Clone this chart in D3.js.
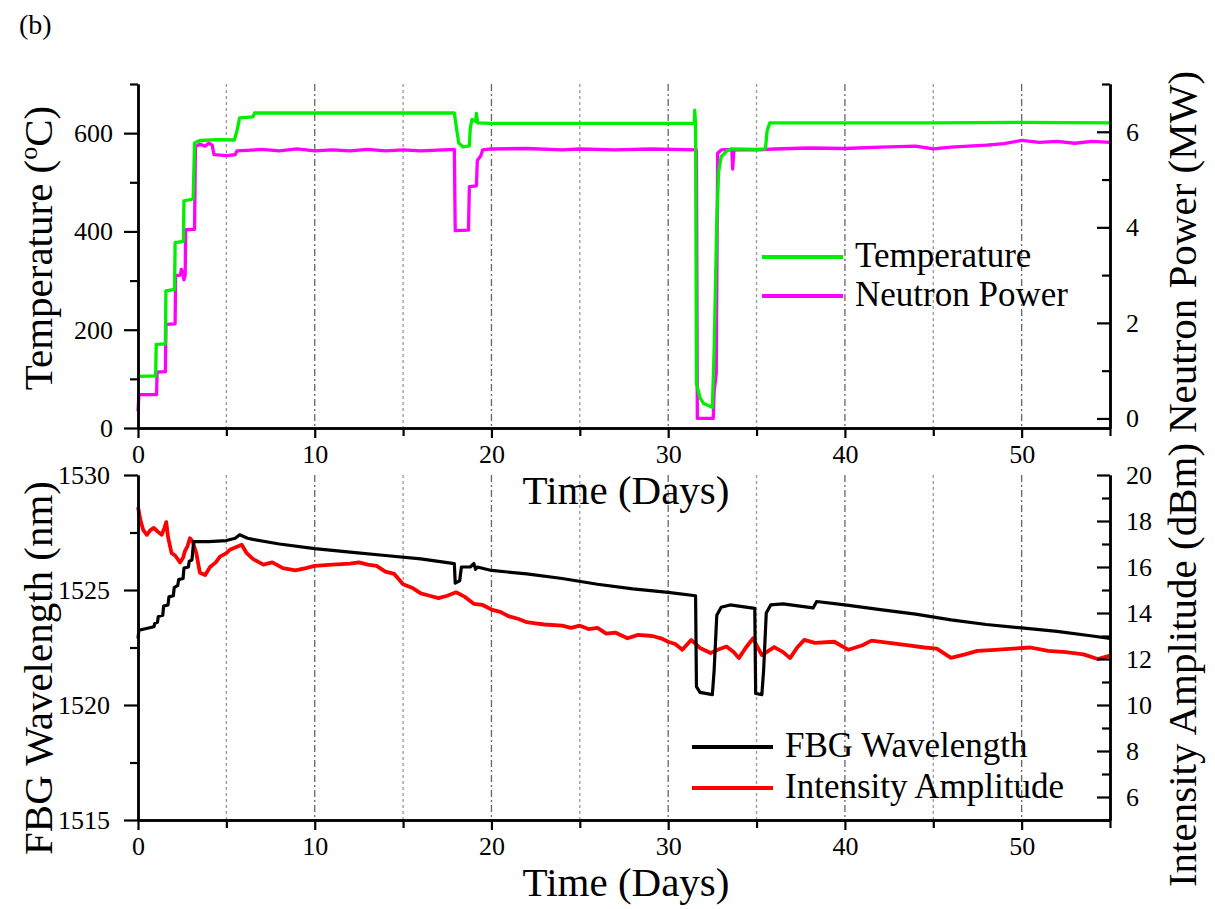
<!DOCTYPE html>
<html>
<head>
<meta charset="utf-8">
<script src="https://cdn.jsdelivr.net/npm/d3@7"></script>
<style>
  html, body { margin: 0; padding: 0; background: #fff; }
  svg { display: block; }
  text { font-family: "Liberation Serif", "Times New Roman", serif; fill: #000; }
</style>
</head>
<body>
<svg id="chart" width="1215" height="909"></svg>
<script>
// ---------------- DATA ----------------
const xMajorTicks = [0, 10, 20, 30, 40, 50];
const xMinorTicks = [5, 15, 25, 35, 45, 55];
const tempTicks = [0, 200, 400, 600];
const tempMinorTicks = [100, 300, 500, 700];
const powerTicks = [0, 2, 4, 6];
const powerMinorTicks = [1, 3, 5, 7];
const wlTicks = [1515, 1520, 1525, 1530];
const wlMinorTicks = [1517.5, 1522.5, 1527.5];
const ampTicks = [6, 8, 10, 12, 14, 16, 18, 20];
const ampMinorTicks = [5, 7, 9, 11, 13, 15, 17, 19];

// Temperature (°C) vs time (days)
const temperature = [
  [0,102],[0.05,105],[1.0,106],[1.03,170],[1.55,171],[1.58,279],[2.07,282],[2.1,377],[2.57,380],[2.6,462],[3.12,466],[3.2,580],
  [3.5,585],[4.5,587],[5.45,586],[5.6,605],[5.75,631],[6.5,633],[6.6,641],[10,641],[15,641],[17.9,641],
  [18.0,615],[18.15,580],[18.4,572],[18.75,574],[18.8,610],[18.9,628],[19.1,624],[19.15,640],[19.22,621],[20,620],
  [25,620],[31.48,620],[31.5,647],[31.55,620],[31.6,90],[31.8,62],[32.0,50],[32.5,42],[32.55,100],[32.6,158],
  [32.75,420],[32.85,520],[33.0,552],[33.3,563],[33.6,568],[35.0,567],[35.5,568],[35.6,605],[35.75,621],
  [40,621],[45,621],[50,622],[55,621]
];

// Neutron power (MW) vs time (days)
const neutronPower = [
  [0,0.15],[0.05,0.5],[1.05,0.5],[1.08,0.97],[1.55,0.98],[1.58,1.97],[2.1,1.98],[2.13,2.99],[2.4,3.0],[2.45,3.12],
  [2.55,3.05],[2.6,2.9],[2.67,3.0],[2.7,3.95],[3.2,3.96],[3.25,5.69],[3.5,5.74],[3.8,5.7],[4.0,5.76],[4.2,5.72],
  [4.3,5.52],[5.0,5.5],[5.5,5.52],[5.6,5.6],[7,5.63],[8,5.6],[9,5.64],[10,5.6],[11,5.62],[12,5.6],[13,5.63],
  [14,5.6],[15,5.62],[16,5.6],[17.9,5.63],[17.95,3.93],[18.7,3.94],[18.75,4.85],[19.15,4.87],[19.2,5.4],[19.4,5.5],
  [19.5,5.62],[20,5.64],[22,5.65],[24,5.62],[25,5.64],[27,5.62],[29,5.64],[31.6,5.62],[31.65,0.0],[32.55,0.0],
  [32.6,0.55],[32.72,0.95],[32.8,5.55],[33.0,5.62],[33.6,5.63],[33.65,5.22],[33.72,5.62],[35,5.62],[36,5.64],
  [38,5.66],[40,5.65],[42,5.68],[44,5.7],[45,5.64],[46,5.68],[48,5.72],[49,5.75],[50,5.82],[51,5.78],[52,5.8],
  [53,5.76],[54,5.8],[55,5.78]
];

// FBG wavelength (nm) vs time (days)
const fbgWavelength = [
  [0,1522.9],[0.05,1523.25],[0.9,1523.4],[0.95,1523.55],[1.1,1523.6],[1.15,1523.85],[1.4,1523.9],[1.45,1524.3],
  [1.7,1524.35],[1.75,1524.7],[2.0,1524.75],[2.05,1525.1],[2.25,1525.2],[2.3,1525.45],[2.55,1525.5],[2.6,1525.95],
  [2.85,1526.0],[2.9,1526.25],[3.05,1526.3],[3.15,1527.1],[4,1527.1],[5,1527.15],[5.5,1527.25],[5.75,1527.4],
  [6.2,1527.25],[6.5,1527.2],[8,1527.0],[10,1526.8],[12,1526.65],[14,1526.5],[16,1526.35],[17.9,1526.15],
  [17.95,1525.3],[18.2,1525.4],[18.3,1526.0],[18.8,1526.0],[19.0,1526.15],[19.1,1525.9],[19.2,1526.0],
  [20,1525.85],[22,1525.7],[24,1525.5],[26,1525.25],[28,1525.05],[30,1524.9],[31.55,1524.75],[31.6,1520.8],
  [31.8,1520.55],[32.5,1520.45],[32.6,1521.5],[32.75,1523.9],[33,1524.25],[33.5,1524.35],[34.9,1524.2],
  [34.95,1520.5],[35.3,1520.45],[35.4,1521.5],[35.55,1524.0],[35.8,1524.35],[36.5,1524.4],[38.2,1524.22],
  [38.4,1524.5],[40,1524.35],[42,1524.15],[44,1523.95],[46,1523.7],[48,1523.5],[50,1523.35],[52,1523.2],
  [54,1523.0],[55,1522.9]
];

// Intensity amplitude (dBm) vs time (days)
const intensityAmplitude = [
  [0,18.6],[0.15,18.0],[0.3,17.6],[0.5,17.4],[0.7,17.6],[0.9,17.7],[1.1,17.55],[1.34,17.4],[1.5,17.7],[1.6,17.95],
  [1.7,17.3],[1.9,16.6],[2.1,16.5],[2.38,16.2],[2.55,16.4],[2.66,16.7],[2.8,16.9],[2.94,17.25],[3.1,17.1],[3.3,16.6],
  [3.5,15.75],[3.8,15.65],[4.08,16.0],[4.4,16.2],[4.64,16.45],[5.0,16.6],[5.2,16.75],[5.5,16.85],[5.87,16.97],
  [6.15,16.6],[6.5,16.35],[7.1,16.1],[7.6,16.2],[8.2,15.95],[8.9,15.85],[9.5,15.95],[10,16.05],[11,16.1],[12,16.15],
  [12.5,16.2],[13,16.1],[13.5,16.05],[14,15.8],[14.5,15.7],[15,15.25],[15.5,15.1],[16,14.85],[16.5,14.75],[17,14.65],
  [17.5,14.75],[18,14.9],[18.5,14.7],[19,14.4],[19.5,14.35],[20,14.15],[20.5,14.05],[21,13.85],[21.5,13.75],[22,13.6],
  [22.5,13.55],[23,13.5],[24,13.45],[24.5,13.35],[25,13.45],[25.5,13.3],[26,13.35],[26.5,13.1],[27,13.15],[27.7,12.9],
  [28.3,13.05],[29.1,13.0],[29.6,12.9],[30,12.75],[30.4,12.65],[30.8,12.4],[31.3,12.83],[31.8,12.48],[32.4,12.26],
  [32.8,12.4],[33.3,12.54],[33.7,12.3],[34,12.04],[34.4,12.5],[34.8,12.9],[35.3,12.17],[36,12.52],[36.5,12.3],
  [36.9,12.04],[37.3,12.5],[37.7,12.83],[38.3,12.7],[39.4,12.75],[40.2,12.4],[41,12.6],[41.5,12.8],[42.5,12.7],
  [43.5,12.6],[44.5,12.5],[45.2,12.45],[46,12.05],[46.8,12.2],[47.5,12.35],[48.5,12.4],[49.5,12.45],[50.5,12.5],
  [51.5,12.35],[52.5,12.3],[53.5,12.2],[54.3,12.0],[55,12.15]
];

// ---------------- LAYOUT ----------------
const svg = d3.select("#chart");
const X0 = 138, X1 = 1110;
const topP = { y0: 84, y1: 428 };
const botP = { y0: 475, y1: 820 };

const x = d3.scaleLinear().domain([0, 55]).range([X0, X1]);
const yTemp = d3.scaleLinear().domain([0, 700]).range([topP.y1, topP.y0]);
const yPow = d3.scaleLinear().domain([-0.2, 7]).range([topP.y1, topP.y0]);
const yWl = d3.scaleLinear().domain([1515, 1530]).range([botP.y1, botP.y0]);
const yAmp = d3.scaleLinear().domain([5, 20]).range([botP.y1, botP.y0]);

// ---------------- GRIDLINES ----------------
function grid(panel) {
  const g = svg.append("g");
  d3.range(5, 55, 5).forEach(d => {
    const major = d % 10 === 0;
    g.append("line")
      .attr("x1", x(d)).attr("x2", x(d))
      .attr("y1", panel.y0).attr("y2", panel.y1)
      .attr("stroke", major ? "#666" : "#999")
      .attr("stroke-width", 1.3)
      .attr("stroke-dasharray", major ? "7,3,2,3" : "3,3");
  });
}
grid(topP); grid(botP);

// ---------------- SERIES ----------------
function drawLine(data, ys, color, w) {
  svg.append("path")
    .datum(data)
    .attr("fill", "none")
    .attr("stroke", color)
    .attr("stroke-width", w)
    .attr("stroke-linejoin", "round")
    .attr("d", d3.line().x(d => x(d[0])).y(d => ys(d[1])));
}
drawLine(neutronPower, yPow, "#ff00ff", 3.3);
drawLine(temperature, yTemp, "#00ee00", 3.3);
drawLine(intensityAmplitude, yAmp, "#ff0000", 3.8);
drawLine(fbgWavelength, yWl, "#000000", 3.2);

// ---------------- AXES ----------------
function styleAxis(g, fs) {
  g.select(".domain").attr("stroke", "#000").attr("stroke-width", 2.5);
  g.selectAll(".tick line").attr("stroke", "#000").attr("stroke-width", 2.2);
  g.selectAll(".tick text").style("font-size", fs + "px")
    .style("font-family", '"Liberation Serif", "Times New Roman", serif').attr("fill", "#000");
}
function xAxes(yPos, pad) {
  const a = svg.append("g").attr("transform", `translate(0,${yPos})`)
    .call(d3.axisBottom(x).tickValues(xMajorTicks).tickFormat(d3.format("d")).tickSizeInner(10).tickSizeOuter(0).tickPadding(pad));
  styleAxis(a, 26);
  const m = svg.append("g").attr("transform", `translate(0,${yPos})`)
    .call(d3.axisBottom(x).tickValues(xMinorTicks).tickFormat("").tickSizeInner(8).tickSizeOuter(0));
  styleAxis(m, 26);
}
function leftAxes(scale, major, minor, fmt, pad) {
  const a = svg.append("g").attr("transform", `translate(${X0},0)`)
    .call(d3.axisLeft(scale).tickValues(major).tickFormat(fmt).tickSizeInner(14).tickSizeOuter(0).tickPadding(pad));
  styleAxis(a, 26);
  const m = svg.append("g").attr("transform", `translate(${X0},0)`)
    .call(d3.axisLeft(scale).tickValues(minor).tickFormat("").tickSizeInner(8).tickSizeOuter(0));
  styleAxis(m, 26);
}
function rightAxes(scale, major, minor, fmt) {
  const a = svg.append("g").attr("transform", `translate(${X1},0)`)
    .call(d3.axisRight(scale).tickValues(major).tickFormat(fmt).tickSizeInner(-13).tickSizeOuter(0).tickPadding(16));
  styleAxis(a, 26);
  const m = svg.append("g").attr("transform", `translate(${X1},0)`)
    .call(d3.axisRight(scale).tickValues(minor).tickFormat("").tickSizeInner(-8).tickSizeOuter(0));
  styleAxis(m, 26);
}

// bottom panel first (top panel's texts overlay it)
xAxes(botP.y1, 6.5);
leftAxes(yWl, wlTicks, wlMinorTicks, d3.format("d"), 14);
rightAxes(yAmp, ampTicks, ampMinorTicks, d3.format("d"));

xAxes(topP.y1, 6.5);
leftAxes(yTemp, tempTicks, tempMinorTicks, d3.format("d"), 11);
rightAxes(yPow, powerTicks, powerMinorTicks, d3.format("d"));

// ---------------- TITLES ----------------
const TF = 41;
svg.append("text").attr("x", (X0 + X1) / 2 + 2).attr("y", 504).attr("text-anchor", "middle")
  .style("font-size", TF + "px").text("Time (Days)");
svg.append("text").attr("x", (X0 + X1) / 2 + 2).attr("y", 896).attr("text-anchor", "middle")
  .style("font-size", TF + "px").text("Time (Days)");

const tl = svg.append("text").attr("transform", "translate(52,248) rotate(-90)").attr("text-anchor", "middle")
  .style("font-size", TF + "px");
tl.append("tspan").text("Temperature (");
tl.append("tspan").style("font-size", "26px").attr("dy", -15).text("o");
tl.append("tspan").attr("dy", 15).text("C)");

svg.append("text").attr("transform", "translate(52,668) rotate(-90)").attr("text-anchor", "middle")
  .style("font-size", TF + "px").text("FBG Wavelength (nm)");
svg.append("text").attr("transform", "translate(1196,252) rotate(-90)").attr("text-anchor", "middle")
  .style("font-size", TF + "px").text("Neutron Power (MW)");
svg.append("text").attr("transform", "translate(1196,665) rotate(-90)").attr("text-anchor", "middle")
  .style("font-size", TF + "px").text("Intensity Amplitude (dBm)");

svg.append("text").attr("x", 19).attr("y", 34).style("font-size", "28px").text("(b)");

// ---------------- LEGENDS ----------------
function legend(items, lx, ly, gap) {
  items.forEach((it, i) => {
    const yy = ly + i * gap;
    svg.append("line").attr("x1", lx).attr("x2", lx + 81).attr("y1", yy).attr("y2", yy)
      .attr("stroke", it.color).attr("stroke-width", 4);
    svg.append("text").attr("x", lx + 93).attr("y", yy + 10).style("font-size", "35px").text(it.name);
  });
}
legend([{ name: "Temperature", color: "#00ee00" }, { name: "Neutron Power", color: "#ff00ff" }], 762, 257, 39);
legend([{ name: "FBG Wavelength", color: "#000000" }, { name: "Intensity Amplitude", color: "#ff0000" }], 692, 747, 41);
</script>
</body>
</html>
